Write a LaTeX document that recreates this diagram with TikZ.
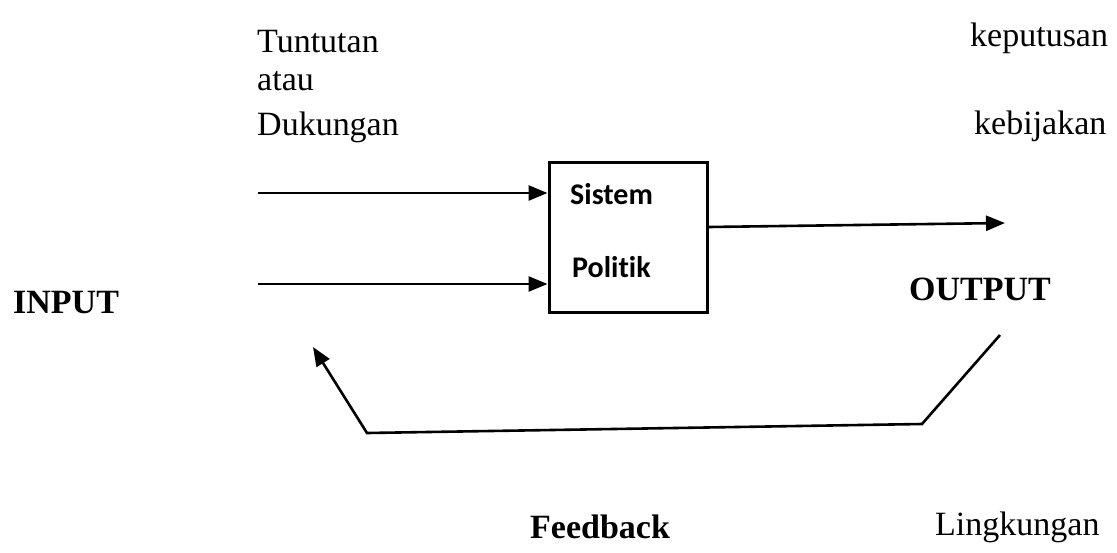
\documentclass[tikz,border=0pt]{standalone}
\usepackage{fontspec}
\setmainfont{Liberation Serif}
\newfontfamily\boxfont[Ligatures={NoCommon}]{Carlito}
\usetikzlibrary{arrows.meta}
\tikzset{
  lbl/.style={anchor=base west, inner sep=0pt, font=\fontsize{34}{40}\selectfont},
  blbl/.style={lbl, font=\fontsize{34}{40}\selectfont\bfseries},
  slbl/.style={anchor=base west, inner sep=0pt, font=\boxfont\fontsize{30}{36}\selectfont\bfseries},
  conn/.style={line width=2.6pt, -{Triangle[length=19pt,width=15pt]}},
  sysbox/.style={draw, line width=3pt, minimum width=158pt, minimum height=150pt, inner sep=0pt}
}
\begin{document}
\begin{tikzpicture}[x=1pt,y=-1pt]
\useasboundingbox (0,0) rectangle (1117,552);
% texts
\node[lbl] (t1) at (257,52) {Tuntutan};
\node[lbl] (t2) at (257,90) {atau};
\node[lbl] (t3) at (257,135) {Dukungan};
\node[lbl] (k1) at (970,46) {keputusan};
\node[lbl] (k2) at (974,134) {kebijakan};
\node[blbl] (inp) at (13,313) {INPUT};
\node[blbl] (outp) at (909,300) {OUTPUT};
\node[blbl] (fb) at (530,538) {Feedback};
\node[lbl] (lk) at (935,535) {Lingkungan};
% system box
\node[sysbox] (sys) at (628,237) {};
\node[slbl] (s1) at (570,204) {Sistem};
\node[slbl] (s2) at (572,277) {Politik};
% input arrows
\coordinate (a1) at (258,193);
\coordinate (a2) at (258,284);
\draw[conn] (a1) -- (sys.west |- a1);
\draw[conn] (a2) -- (sys.west |- a2);
% output arrow
\coordinate (o1) at (sys.east |- 0,227);
\coordinate (o2) at (1005,223);
\draw[conn] (o1) -- (o2);
% feedback loop
\coordinate (f1) at (1000,335);
\coordinate (f2) at (922,424);
\coordinate (f3) at (367,433);
\coordinate (f4) at (313,347);
\draw[conn, line join=miter] (f1) -- (f2) -- (f3) -- (f4);
\end{tikzpicture}
\end{document}
